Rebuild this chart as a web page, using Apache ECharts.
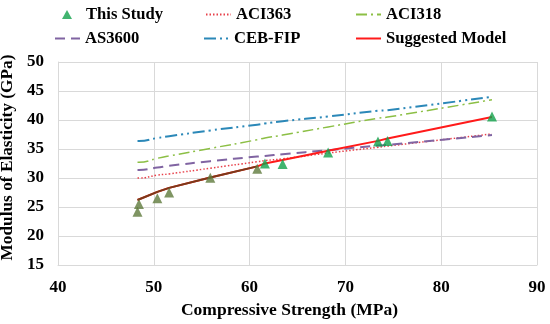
<!DOCTYPE html>
<html><head><meta charset="utf-8">
<script src="https://cdn.jsdelivr.net/npm/echarts@6/dist/echarts.min.js"></script>
<style>html,body{margin:0;padding:0;background:#fff}#c{width:550px;height:324px}</style>
</head><body><div id="c"></div>
<script>
// Test data (This Study)
const studyX = [48.3, 48.45, 50.37, 51.6, 55.9, 60.8, 61.6, 63.45, 68.2, 73.4, 74.4, 85.3];
const studyY = [24.2, 25.5, 26.5, 27.5, 30.05, 31.6, 32.5, 32.4, 34.4, 36.3, 36.4, 40.6];
// Model curves evaluated at the tested strengths
const lineX = [48.3, 48.45, 50.37, 51.6, 55.9, 60.8, 61.6, 63.45, 68.2, 73.4, 74.4, 85.3];
const aci363 = [30.0, 30.0, 30.5, 30.7, 31.7, 32.8, 33.0, 33.3, 34.3, 35.3, 35.5, 37.6];
const aci318 = [32.7, 32.7, 33.4, 33.8, 35.1, 36.6, 36.9, 37.4, 38.8, 40.3, 40.5, 43.5];
const as3600 = [31.4, 31.4, 31.8, 32.1, 32.9, 33.7, 33.8, 34.1, 34.8, 35.6, 35.7, 37.4];
const cebfip = [36.4, 36.4, 36.9, 37.2, 38.2, 39.2, 39.4, 39.8, 40.6, 41.6, 41.7, 44.0];
const suggested = [26.2, 26.4, 27.6, 28.3, 30.1, 32.0, 32.5, 33.1, 34.7, 36.4, 36.8, 40.5];
const xTicks = [40, 50, 60, 70, 80, 90];
const yTicks = [15, 20, 25, 30, 35, 40, 45, 50];

const pair = (xs, ys) => xs.map((x, i) => [x, ys[i]]);
const font = '"Liberation Serif", "Times New Roman", serif';
const txt = {fontFamily: font, fontWeight: 'bold', fontSize: 15, color: '#000'};

const mkLegend = (name, left, top, extra) => Object.assign({
  data: [name], left: left, top: top, itemWidth: 25, itemHeight: 10, itemGap: 3,
  itemStyle: {opacity: 0},
  textStyle: Object.assign({}, txt, {fontSize: 16.6}), selectedMode: false, padding: 0
}, extra || {});

const olive = '#5f7a3c';
const chart = echarts.init(document.getElementById('c'), null, {renderer: 'canvas'});
chart.setOption({
  animation: false,
  legend: [
    mkLegend('This Study', 62, 6, {itemWidth: 10, itemHeight: 9, itemStyle: {},
      textStyle: Object.assign({}, txt, {fontSize: 16.6, padding: [0, 0, 0, 9]})}),
    mkLegend('ACI363', 205, 6),
    mkLegend('ACI318', 355, 6),
    mkLegend('AS3600', 54, 30),
    mkLegend('CEB-FIP', 203, 30),
    mkLegend('Suggested Model', 355, 30)
  ],
  grid: {left: 58, right: 13, top: 62, bottom: 59, containLabel: false, outerBoundsMode: 'none'},
  xAxis: {
    type: 'value', min: 40, max: 90, interval: 10,
    name: 'Compressive Strength (MPa)', nameLocation: 'middle', nameGap: 36,
    nameTextStyle: Object.assign({}, txt, {fontSize: 17.5, padding: [0, 16, 0, 0]}),
    axisLine: {show: true, lineStyle: {color: '#d9d9d9'}},
    axisTick: {show: false},
    axisLabel: Object.assign({}, txt, {fontSize: 17, margin: 14}),
    splitLine: {show: true, lineStyle: {color: '#d9d9d9', width: 1}}
  },
  yAxis: {
    type: 'value', min: 15, max: 50, interval: 5,
    name: 'Modulus of Elasticity (GPa)', nameLocation: 'middle', nameGap: 37, nameRotate: 90,
    nameTextStyle: Object.assign({}, txt, {fontSize: 17.3, padding: [0, 0, 0, 12]}),
    axisLine: {show: true, lineStyle: {color: '#d9d9d9'}},
    axisTick: {show: false},
    axisLabel: Object.assign({}, txt, {fontSize: 17, margin: 14}),
    splitLine: {show: true, lineStyle: {color: '#d9d9d9', width: 1}}
  },
  series: [
    {name: 'ACI363', type: 'line', data: pair(lineX, aci363), symbol: 'none', smooth: true,
     itemStyle: {color: '#e8404a'}, lineStyle: {color: '#e8404a', width: 1.5, type: [1.5, 2]}},
    {name: 'ACI318', type: 'line', data: pair(lineX, aci318), symbol: 'none', smooth: true,
     itemStyle: {color: '#8cbf45'}, lineStyle: {color: '#8cbf45', width: 1.5, type: [11, 4, 2, 4]}},
    {name: 'AS3600', type: 'line', data: pair(lineX, as3600), symbol: 'none', smooth: true,
     itemStyle: {color: '#8064a2'}, lineStyle: {color: '#8064a2', width: 2, type: [10, 6]}},
    {name: 'CEB-FIP', type: 'line', data: pair(lineX, cebfip), symbol: 'none', smooth: true,
     itemStyle: {color: '#2b88b8'}, lineStyle: {color: '#2b88b8', width: 2, type: [12, 4, 2, 4, 2, 4]}},
    {name: 'Suggested Model', type: 'line', data: pair(lineX, suggested), symbol: 'none',
     itemStyle: {color: '#ff1a1a'}, lineStyle: {color: '#ff1a1a', width: 2}},
    {name: 'Suggested Model (left)', type: 'line', data: pair(lineX.slice(0, 6), suggested.slice(0, 6)),
     symbol: 'none', itemStyle: {color: '#7a3a1a'}, lineStyle: {color: '#7a3a1a', width: 2}, z: 3},
    {name: 'This Study', type: 'scatter', symbol: 'triangle', symbolSize: 10, z: 5,
     itemStyle: {color: '#12a14b'},
     data: pair(studyX, studyY).map((p, i) => i < 6 ? {value: p, itemStyle: {color: olive}} : p)}
  ]
});
</script></body></html>
